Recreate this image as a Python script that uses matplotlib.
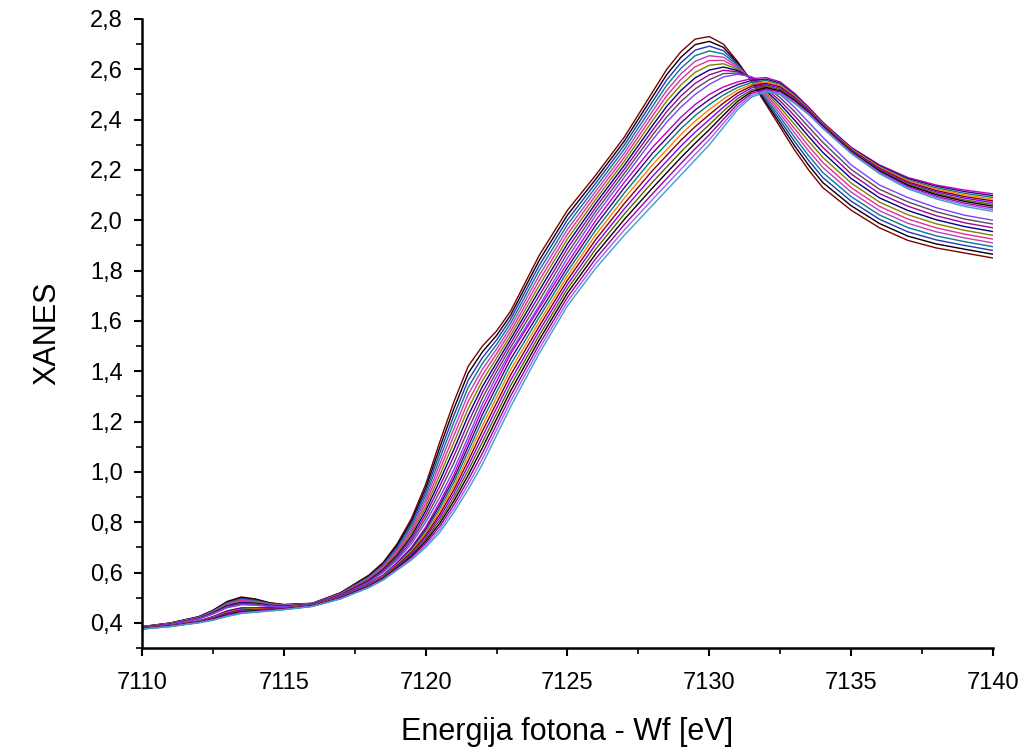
import numpy as np
import matplotlib
matplotlib.use("Agg")
import matplotlib.pyplot as plt
from matplotlib.ticker import MultipleLocator, FuncFormatter

plt.rcParams['font.family'] = ['Liberation Sans', 'DejaVu Sans']

energy = [7110, 7111, 7112, 7112.5, 7113, 7113.5, 7114, 7114.5, 7115, 7116,
          7117, 7118, 7118.5, 7119, 7119.5, 7120, 7120.5, 7121, 7121.5, 7122,
          7122.5, 7123, 7124, 7125, 7126, 7127, 7128, 7128.5, 7129, 7129.5,
          7130, 7130.5, 7131, 7131.5, 7132, 7132.5, 7133, 7133.5, 7134, 7135,
          7136, 7137, 7138, 7139, 7140]

# rows = energy, columns = spectra (tall early-edge spectra)
group1 = [
    [.385, .385, .384, .384, .383, .383, .382, .382, .381, .381, .380],
    [.400, .399, .399, .398, .397, .397, .396, .395, .394, .394, .393],
    [.425, .424, .423, .422, .421, .420, .419, .418, .417, .416, .415],
    [.450, .449, .447, .446, .444, .443, .441, .440, .438, .437, .435],
    [.485, .483, .480, .478, .475, .473, .470, .468, .465, .463, .460],
    [.503, .500, .497, .494, .491, .488, .484, .481, .478, .475, .472],
    [.495, .493, .490, .488, .485, .483, .480, .478, .475, .473, .470],
    [.480, .479, .477, .476, .474, .473, .471, .470, .468, .467, .465],
    [.473, .472, .471, .470, .469, .468, .467, .466, .465, .464, .463],
    [.478, .477, .477, .476, .476, .475, .474, .474, .473, .473, .472],
    [.520, .519, .517, .516, .515, .514, .512, .511, .510, .508, .507],
    [.590, .587, .584, .581, .578, .575, .572, .569, .566, .563, .560],
    [.640, .636, .632, .628, .624, .620, .616, .612, .608, .604, .600],
    [.715, .709, .702, .696, .689, .683, .676, .670, .663, .657, .650],
    [.815, .805, .795, .785, .775, .765, .755, .745, .735, .725, .715],
    [.950, .935, .920, .905, .890, .875, .860, .845, .830, .815, .800],
    [1.120, 1.098, 1.076, 1.054, 1.032, 1.010, .988, .966, .944, .922, .900],
    [1.280, 1.253, 1.226, 1.199, 1.172, 1.145, 1.118, 1.091, 1.064, 1.037, 1.010],
    [1.420, 1.392, 1.364, 1.336, 1.308, 1.280, 1.252, 1.224, 1.196, 1.168, 1.140],
    [1.500, 1.477, 1.454, 1.431, 1.408, 1.385, 1.362, 1.339, 1.316, 1.293, 1.270],
    [1.560, 1.542, 1.524, 1.506, 1.488, 1.470, 1.452, 1.434, 1.416, 1.398, 1.380],
    [1.640, 1.624, 1.608, 1.592, 1.576, 1.560, 1.544, 1.528, 1.512, 1.496, 1.480],
    [1.860, 1.840, 1.820, 1.800, 1.780, 1.760, 1.740, 1.720, 1.700, 1.680, 1.660],
    [2.040, 2.021, 2.002, 1.983, 1.964, 1.945, 1.926, 1.907, 1.888, 1.869, 1.850],
    [2.180, 2.164, 2.148, 2.132, 2.116, 2.100, 2.084, 2.068, 2.052, 2.036, 2.020],
    [2.330, 2.314, 2.298, 2.282, 2.266, 2.250, 2.234, 2.218, 2.202, 2.186, 2.170],
    [2.510, 2.491, 2.472, 2.453, 2.434, 2.415, 2.396, 2.377, 2.358, 2.339, 2.320],
    [2.600, 2.579, 2.558, 2.537, 2.516, 2.495, 2.474, 2.453, 2.432, 2.411, 2.390],
    [2.670, 2.648, 2.626, 2.604, 2.582, 2.560, 2.538, 2.516, 2.494, 2.472, 2.450],
    [2.720, 2.698, 2.676, 2.654, 2.632, 2.610, 2.588, 2.566, 2.544, 2.522, 2.500],
    [2.730, 2.711, 2.692, 2.673, 2.654, 2.635, 2.616, 2.597, 2.578, 2.559, 2.540],
    [2.700, 2.687, 2.674, 2.661, 2.648, 2.635, 2.622, 2.609, 2.596, 2.583, 2.570],
    [2.630, 2.625, 2.620, 2.615, 2.610, 2.605, 2.600, 2.595, 2.590, 2.585, 2.580],
    [2.550, 2.552, 2.554, 2.556, 2.558, 2.560, 2.562, 2.564, 2.566, 2.568, 2.570],
    [2.460, 2.468, 2.476, 2.484, 2.492, 2.500, 2.508, 2.516, 2.524, 2.532, 2.540],
    [2.370, 2.383, 2.396, 2.409, 2.422, 2.435, 2.448, 2.461, 2.474, 2.487, 2.500],
    [2.280, 2.297, 2.314, 2.331, 2.348, 2.365, 2.382, 2.399, 2.416, 2.433, 2.450],
    [2.200, 2.219, 2.238, 2.257, 2.276, 2.295, 2.314, 2.333, 2.352, 2.371, 2.390],
    [2.130, 2.150, 2.170, 2.190, 2.210, 2.230, 2.250, 2.270, 2.290, 2.310, 2.330],
    [2.040, 2.058, 2.076, 2.094, 2.112, 2.130, 2.148, 2.166, 2.184, 2.202, 2.220],
    [1.970, 1.987, 2.004, 2.021, 2.038, 2.055, 2.072, 2.089, 2.106, 2.123, 2.140],
    [1.920, 1.937, 1.954, 1.971, 1.988, 2.005, 2.022, 2.039, 2.056, 2.073, 2.090],
    [1.890, 1.906, 1.922, 1.938, 1.954, 1.970, 1.986, 2.002, 2.018, 2.034, 2.050],
    [1.870, 1.885, 1.900, 1.915, 1.930, 1.945, 1.960, 1.975, 1.990, 2.005, 2.020],
    [1.850, 1.865, 1.880, 1.895, 1.910, 1.925, 1.940, 1.955, 1.970, 1.985, 2.000],
]

# dense late-edge bundle, white line near 7132 eV
group2 = [
    [.380, .380, .379, .379, .378, .378, .377, .377, .376, .376, .375],
    [.390, .390, .389, .389, .388, .388, .387, .387, .386, .386, .385],
    [.408, .407, .406, .406, .405, .404, .403, .402, .402, .401, .400],
    [.425, .424, .422, .421, .419, .418, .416, .415, .413, .412, .410],
    [.448, .446, .443, .441, .439, .437, .434, .432, .430, .427, .425],
    [.460, .458, .455, .453, .451, .449, .446, .444, .442, .439, .437],
    [.460, .458, .456, .455, .453, .451, .449, .447, .446, .444, .442],
    [.460, .459, .457, .456, .455, .454, .452, .451, .450, .448, .447],
    [.460, .459, .458, .458, .457, .456, .455, .454, .454, .453, .452],
    [.470, .470, .469, .469, .468, .468, .467, .467, .466, .466, .465],
    [.505, .504, .503, .502, .501, .500, .499, .498, .497, .496, .495],
    [.555, .554, .552, .551, .549, .548, .546, .545, .543, .542, .540],
    [.590, .588, .586, .584, .582, .580, .578, .576, .574, .572, .570],
    [.640, .637, .634, .631, .628, .625, .622, .619, .616, .613, .610],
    [.700, .695, .690, .685, .680, .675, .670, .665, .660, .655, .650],
    [.780, .772, .764, .756, .748, .740, .732, .724, .716, .708, .700],
    [.880, .868, .856, .844, .832, .820, .808, .796, .784, .772, .760],
    [.990, .975, .960, .945, .930, .915, .900, .885, .870, .855, .840],
    [1.120, 1.101, 1.082, 1.063, 1.044, 1.025, 1.006, .987, .968, .949, .930],
    [1.250, 1.228, 1.206, 1.184, 1.162, 1.140, 1.118, 1.096, 1.074, 1.052, 1.030],
    [1.360, 1.339, 1.317, 1.296, 1.274, 1.253, 1.231, 1.210, 1.188, 1.167, 1.145],
    [1.470, 1.449, 1.428, 1.407, 1.386, 1.365, 1.344, 1.323, 1.302, 1.281, 1.260],
    [1.650, 1.632, 1.614, 1.596, 1.578, 1.560, 1.542, 1.524, 1.506, 1.488, 1.470],
    [1.830, 1.813, 1.796, 1.779, 1.762, 1.745, 1.728, 1.711, 1.694, 1.677, 1.660],
    [2.000, 1.981, 1.962, 1.943, 1.924, 1.905, 1.886, 1.867, 1.848, 1.829, 1.810],
    [2.150, 2.129, 2.108, 2.087, 2.066, 2.045, 2.024, 2.003, 1.982, 1.961, 1.940],
    [2.290, 2.267, 2.244, 2.221, 2.198, 2.175, 2.152, 2.129, 2.106, 2.083, 2.060],
    [2.350, 2.327, 2.304, 2.281, 2.258, 2.235, 2.212, 2.189, 2.166, 2.143, 2.120],
    [2.410, 2.387, 2.364, 2.341, 2.318, 2.295, 2.272, 2.249, 2.226, 2.203, 2.180],
    [2.460, 2.438, 2.416, 2.394, 2.372, 2.350, 2.328, 2.306, 2.284, 2.262, 2.240],
    [2.500, 2.480, 2.460, 2.440, 2.420, 2.400, 2.380, 2.360, 2.340, 2.320, 2.300],
    [2.530, 2.514, 2.498, 2.482, 2.466, 2.450, 2.434, 2.418, 2.402, 2.386, 2.370],
    [2.550, 2.539, 2.528, 2.517, 2.506, 2.495, 2.484, 2.473, 2.462, 2.451, 2.440],
    [2.563, 2.556, 2.548, 2.541, 2.534, 2.527, 2.519, 2.512, 2.505, 2.497, 2.490],
    [2.567, 2.561, 2.556, 2.550, 2.544, 2.539, 2.533, 2.527, 2.521, 2.516, 2.510],
    [2.550, 2.545, 2.540, 2.535, 2.530, 2.525, 2.520, 2.515, 2.510, 2.505, 2.500],
    [2.505, 2.501, 2.497, 2.493, 2.489, 2.485, 2.481, 2.477, 2.473, 2.469, 2.465],
    [2.450, 2.447, 2.444, 2.441, 2.438, 2.435, 2.432, 2.429, 2.426, 2.423, 2.420],
    [2.390, 2.388, 2.385, 2.383, 2.380, 2.378, 2.375, 2.373, 2.370, 2.368, 2.365],
    [2.290, 2.288, 2.285, 2.283, 2.280, 2.278, 2.275, 2.273, 2.270, 2.268, 2.265],
    [2.220, 2.217, 2.213, 2.210, 2.206, 2.203, 2.199, 2.196, 2.192, 2.189, 2.185],
    [2.170, 2.166, 2.161, 2.157, 2.152, 2.148, 2.143, 2.139, 2.134, 2.130, 2.125],
    [2.140, 2.135, 2.129, 2.124, 2.118, 2.113, 2.107, 2.102, 2.096, 2.091, 2.085],
    [2.120, 2.114, 2.107, 2.101, 2.094, 2.088, 2.081, 2.075, 2.068, 2.062, 2.055],
    [2.105, 2.098, 2.091, 2.084, 2.077, 2.070, 2.063, 2.056, 2.049, 2.042, 2.035],
]

colors1 = ['#800000', '#000000', '#3030c0', '#008080', '#c040c0', '#e03090',
           '#808000', '#000080', '#a000a0', '#505050', '#8040ff']
colors2 = ['#c000c0', '#400080', '#008080', '#ff8000', '#800000', '#8000ff',
           '#606000', '#000000', '#a000a0', '#a060ff', '#40a0c0']

fig = plt.figure(figsize=(10.26, 7.53), dpi=100)
ax = fig.add_axes([0.1384, 0.1394, 0.8294, 0.8354])

lines = ax.plot(energy, np.array(group1), lw=1.0)
for ln, c in zip(lines, colors1):
    ln.set_color(c)
lines = ax.plot(energy, np.array(group2), lw=1.0)
for ln, c in zip(lines, colors2):
    ln.set_color(c)

ax.set_xlim(7110, 7140)
ax.set_ylim(0.3, 2.8)
ax.xaxis.set_major_locator(MultipleLocator(5))
ax.xaxis.set_minor_locator(MultipleLocator(2.5))
ax.yaxis.set_major_locator(MultipleLocator(0.2))
ax.yaxis.set_minor_locator(MultipleLocator(0.1))
ax.yaxis.set_major_formatter(FuncFormatter(lambda v, p: f"{v:.1f}".replace('.', ',')))

for s in ['top', 'right']:
    ax.spines[s].set_visible(False)
for s in ['left', 'bottom']:
    ax.spines[s].set_linewidth(1.8)

ax.tick_params(which='major', direction='out', length=6, width=1.5, labelsize=17)
ax.tick_params(axis='x', which='major', pad=11)
ax.tick_params(axis='y', which='major', pad=8)
ax.tick_params(which='minor', direction='out', length=4, width=1.2)

ax.set_xlabel('Energija fotona - Wf [eV]', fontsize=22, labelpad=17)
ax.set_ylabel('XANES', fontsize=22, labelpad=20)

fig.savefig('out.png', dpi=100)
